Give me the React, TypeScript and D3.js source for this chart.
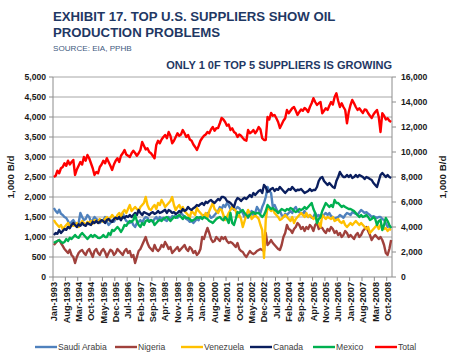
import React from 'react'
import * as d3 from 'd3'

// monthly imports, thousand barrels per day, Jan-1993 .. Dec-2008
const saudiArabia = [
  1725, 1650, 1600, 1680, 1580, 1550, 1500, 1475, 1400, 1300, 1380, 1425,
  1350, 1300, 1350, 1600, 1500, 1425, 1450, 1550, 1500, 1380, 1420, 1500,
  1450, 1425, 1350, 1400, 1425, 1500, 1380, 1300, 1350, 1420, 1380, 1450,
  1500, 1450, 1550, 1600, 1480, 1400, 1380, 1350, 1400, 1300, 1250, 1350,
  1380, 1425, 1350, 1450, 1500, 1480, 1400, 1425, 1380, 1450, 1500, 1420,
  1500, 1450, 1480, 1425, 1400, 1500, 1450, 1520, 1500, 1550, 1480, 1520,
  1600, 1550, 1500, 1450, 1425, 1380, 1400, 1350, 1400, 1450, 1420, 1500,
  1480, 1550, 1520, 1600, 1550, 1480, 1500, 1550, 1600, 1650, 1750, 1700,
  1800, 1750, 1850, 1800, 1700, 1750, 1680, 1700, 1750, 1720, 1650, 1600,
  1500, 1550, 1480, 1600, 1650, 1550, 1600, 1750, 1680, 1600, 1750, 1850,
  2000, 2250, 2150, 2100, 1750, 1800, 1700, 1600, 1650, 1550, 1500, 1580,
  1550, 1600, 1650, 1600, 1700, 1750, 1650, 1620, 1600, 1580, 1650, 1550,
  1500, 1550, 1480, 1500, 1600, 1520, 1550, 1480, 1500, 1560, 1600, 1550,
  1600, 1520, 1500, 1450, 1480, 1500, 1550, 1520, 1480, 1550, 1600, 1580,
  1550, 1620, 1600, 1580, 1550, 1620, 1675, 1640, 1600, 1620, 1580, 1550,
  1500, 1520, 1500, 1480, 1500, 1500, 1450, 1425, 1350, 1250, 1280, 1225,
]

const nigeria = [
  800, 850, 900, 925, 850, 780, 700, 650, 600, 680, 550, 500,
  350, 500, 600, 650, 675, 600, 550, 650, 700, 600, 500, 650,
  700, 600, 550, 650, 700, 620, 500, 600, 680, 650, 550, 600,
  700, 650, 600, 550, 650, 700, 600, 650, 500, 550, 350, 500,
  650, 700, 800, 900, 1000, 850, 750, 700, 650, 800, 700, 650,
  700, 800, 750, 875, 800, 700, 750, 600, 650, 700, 750, 650,
  700, 750, 800, 700, 650, 750, 700, 600, 650, 550, 600, 700,
  1000, 950, 1100, 1225, 1100, 950, 875, 900, 1000, 950, 900, 1000,
  950, 1000, 900, 850, 875, 850, 800, 750, 850, 700, 650, 625,
  550, 500, 575, 650, 600, 575, 600, 650, 675, 700, 675, 650,
  1100, 800, 850, 925, 850, 800, 750, 700, 675, 800, 1000, 1100,
  1300, 1200, 1175, 1100, 1200, 1250, 1350, 1300, 1200, 1250, 1150, 1250,
  1200, 1300, 1250, 1150, 1300, 1350, 1200, 1250, 1225, 1150, 1100, 1200,
  1150, 1250, 1200, 1100, 1150, 1050, 1100, 1000, 1050, 1150, 1100, 1000,
  1050, 1000, 950, 1050, 1100, 1000, 1050, 1150, 1200, 1250, 1150, 1050,
  925, 1000, 1050, 1000, 950, 1000, 925, 800, 600, 550, 700, 925,
]

const venezuela = [
  1425, 1350, 1300, 1250, 1300, 1200, 1250, 1300, 1350, 1250, 1300, 1280,
  1300, 1350, 1250, 1320, 1400, 1350, 1300, 1380, 1350, 1400, 1330, 1420,
  1400, 1350, 1450, 1400, 1380, 1450, 1500, 1420, 1480, 1550, 1500, 1450,
  1550, 1600, 1500, 1620, 1675, 1600, 1700, 1800, 1650, 1700, 1750, 1700,
  1650, 1750, 1800, 1850, 2000, 1800, 1700, 1675, 1750, 1800, 1700, 1850,
  1800, 1925, 1850, 1750, 1800, 1850, 1900, 2000, 1800, 1675, 1750, 1800,
  1700, 1750, 1650, 1600, 1550, 1500, 1650, 1600, 1550, 1725, 1650, 1600,
  1550, 1500, 1600, 1500, 1650, 1750, 1850, 1700, 1650, 1600, 1700, 1675,
  1550, 1425, 1500, 1600, 1675, 1750, 1700, 1650, 1500, 1550, 1450, 1250,
  1400, 1550, 1675, 1600, 1450, 1500, 1550, 1500, 1450, 1300, 1175, 475,
  1425, 1750, 1700, 1650, 1700, 1600, 1550, 1500, 1425, 1450, 1500, 1550,
  1500, 1450, 1400, 1500, 1350, 1450, 1500, 1550, 1600, 1550, 1500, 1600,
  1500, 1550, 1500, 1450, 1500, 1425, 1350, 1250, 1550, 1500, 1450, 1500,
  1475, 1450, 1500, 1400, 1425, 1450, 1380, 1350, 1400, 1300, 1250, 1300,
  1350, 1300, 1350, 1400, 1350, 1300, 1350, 1300, 1250, 1200, 1250, 1100,
  1150, 1200, 1250, 1300, 1200, 1300, 1250, 1200, 1225, 1150, 1200, 1175,
]

const canada = [
  1050, 1100, 1080, 1175, 1100, 1150, 1200, 1180, 1250, 1220, 1300, 1350,
  1300, 1250, 1320, 1280, 1350, 1300, 1280, 1350, 1320, 1300, 1380, 1350,
  1400, 1350, 1380, 1420, 1400, 1350, 1425, 1450, 1400, 1380, 1450, 1480,
  1450, 1500, 1420, 1500, 1480, 1520, 1500, 1550, 1500, 1550, 1600, 1550,
  1675, 1600, 1550, 1620, 1600, 1580, 1550, 1600, 1620, 1580, 1600, 1650,
  1600, 1620, 1650, 1680, 1600, 1675, 1650, 1600, 1620, 1580, 1600, 1650,
  1620, 1700, 1650, 1680, 1750, 1700, 1680, 1720, 1750, 1800, 1780, 1820,
  1850, 1800, 1880, 1850, 1900, 1925, 1880, 1850, 1900, 1950, 1920, 2000,
  2000, 1975, 1900, 1880, 1850, 1800, 1750, 1900, 1975, 1950, 1900, 1950,
  1980, 1950, 2000, 2050, 2000, 2100, 2050, 2100, 2150, 2175, 2100, 2300,
  2250, 2125, 2150, 2200, 2225, 2150, 2200, 2180, 2250, 2200, 2150, 2100,
  2150, 2200, 2180, 2250, 2200, 2150, 2180, 2175, 2200, 2150, 2100, 2125,
  2150, 2200, 2150, 2175, 2175, 2250, 2400, 2475, 2500, 2400, 2350, 2300,
  2350, 2300, 2250, 2225, 2400, 2500, 2625, 2550, 2500, 2500, 2550, 2500,
  2550, 2475, 2500, 2550, 2500, 2550, 2525, 2500, 2450, 2500, 2480, 2450,
  2425, 2350, 2300, 2250, 2400, 2550, 2600, 2550, 2500, 2550, 2500, 2475,
]

const mexico = [
  850, 880, 900, 925, 880, 850, 875, 950, 900, 980, 950, 1000,
  1050, 1000, 980, 1050, 1100, 1050, 1000, 950, 1000, 1050, 1000, 1050,
  1020, 980, 975, 1000, 1050, 1000, 1000, 1100, 1050, 1175, 1150, 1200,
  1250, 1200, 1125, 1200, 1300, 1280, 1350, 1400, 1380, 1425, 1550, 1400,
  1300, 1250, 1350, 1300, 1400, 1420, 1380, 1425, 1400, 1300, 1350, 1400,
  1425, 1400, 1450, 1480, 1500, 1450, 1400, 1450, 1500, 1480, 1520, 1550,
  1500, 1450, 1520, 1480, 1475, 1450, 1400, 1425, 1450, 1500, 1480, 1500,
  1450, 1500, 1475, 1450, 1400, 1380, 1350, 1400, 1450, 1480, 1500, 1450,
  1420, 1500, 1450, 1350, 1600, 1350, 1300, 1450, 1625, 1600, 1650, 1675,
  1600, 1550, 1500, 1550, 1600, 1625, 1580, 1600, 1600, 1550, 1500, 1550,
  1650, 1800, 1750, 1700, 1725, 1680, 1650, 1600, 1650, 1700, 1675, 1650,
  1700, 1680, 1725, 1700, 1650, 1625, 1650, 1700, 1675, 1700, 1750, 1700,
  1750, 1800, 1850, 1700, 1600, 1350, 1450, 1500, 1650, 1750, 1850, 1800,
  1750, 1800, 1750, 1925, 1850, 1850, 1800, 1750, 1780, 1750, 1725, 1700,
  1700, 1675, 1650, 1600, 1550, 1500, 1550, 1500, 1520, 1550, 1500, 1425,
  1450, 1500, 1450, 1300, 1400, 1425, 1175, 1300, 1475, 1400, 1300, 1225,
]

// total, read on the right axis
const total = [
  8000, 8100, 8500, 8300, 8700, 8800, 9100, 8900, 9300, 9000, 9200, 9360,
  8160, 8600, 8900, 9200, 9000, 9600, 9300, 9760, 9500, 9100, 8700, 8160,
  8400, 8300, 8800, 9000, 9300, 9100, 9500, 9200, 8900, 8560, 9000, 9300,
  9500, 9200, 9700, 9900, 10160, 9800, 9700, 9600, 9900, 10100, 9920, 9700,
  9900, 10160, 10800, 10500, 10200, 10300, 10000, 9900, 9700, 9500, 10560, 10900,
  10700, 11000, 11200, 11360, 11100, 11600, 11300, 10700, 10900, 11200, 11500, 11300,
  11400, 11760, 11500, 11200, 11360, 11000, 10900, 10600, 10400, 10160, 10500, 10900,
  11120, 11300, 11400, 11600, 11500, 11800, 12000, 11700, 11900, 11920, 12300, 12720,
  12600, 12400, 12100, 12200, 11760, 11900, 11600, 11500, 11200, 11400, 11300, 11120,
  10960, 10900, 11760, 11500, 11600, 11760, 11500, 11700, 12000, 11800, 11100, 10960,
  10960, 12800, 12600, 13120, 12900, 12960, 12700, 12400, 11920, 12200, 12500, 12700,
  13360, 13100, 13300, 13500, 13600, 13300, 12960, 13200, 13400, 13300, 13520, 13400,
  13200, 13600, 13900, 14300, 14000, 13760, 13900, 14000, 13100, 13300, 13500, 13360,
  13700, 14000, 13800, 14400, 14700, 14100, 13600, 13900, 13600, 13360, 12300, 13200,
  13760, 14160, 13900, 13600, 13360, 13500, 13300, 13120, 13400, 13360, 13100, 12900,
  12720, 13000, 13200, 13360, 12800, 11600, 13100, 12900, 12600, 12700, 12500, 12400,
]

const xTickLabels = [
  'Jan-1993', 'Aug-1993', 'Mar-1994', 'Oct-1994', 'May-1995', 'Dec-1995', 'Jul-1996',
  'Feb-1997', 'Sep-1997', 'Apr-1998', 'Nov-1998', 'Jun-1999', 'Jan-2000', 'Aug-2000',
  'Mar-2001', 'Oct-2001', 'May-2002', 'Dec-2002', 'Jul-2003', 'Feb-2004', 'Sep-2004',
  'Apr-2005', 'Nov-2005', 'Jun-2006', 'Jan-2007', 'Aug-2007', 'Mar-2008', 'Oct-2008',
]
const leftTicks = [0, 500, 1000, 1500, 2000, 2500, 3000, 3500, 4000, 4500, 5000]
const rightTicks = [0, 2000, 4000, 6000, 8000, 10000, 12000, 14000, 16000]

const months = d3.timeMonths(new Date(1993, 0, 1), new Date(2009, 0, 1))

const series = [
  { name: 'Saudi Arabia', values: saudiArabia, color: '#4f81bd', axis: 'left' },
  { name: 'Nigeria', values: nigeria, color: '#a0413c', axis: 'left' },
  { name: 'Venezuela', values: venezuela, color: '#ffc000', axis: 'left' },
  { name: 'Canada', values: canada, color: '#0a1e5e', axis: 'left' },
  { name: 'Mexico', values: mexico, color: '#00b050', axis: 'left' },
  { name: 'Total', values: total, color: '#ff0000', axis: 'right' },
]

const FONT = '"Liberation Sans", Arial, sans-serif'
const NAVY = '#1f3864'

export default function App() {
  const left = 53, right = 392, top = 77, bottom = 277

  const x = d3.scaleBand<number>()
    .domain(months.map((_, i) => i))
    .range([left, right])
  const xc = (i: number) => (x(i) as number) + x.bandwidth() / 2
  const yL = d3.scaleLinear().domain([0, 5000]).range([bottom, top])
  const yR = d3.scaleLinear().domain([0, 16000]).range([bottom, top])

  const fmt = d3.format(',')

  const legendX = [35, 115, 181, 250, 313, 375]

  return (
    <svg width={450} height={362} style={{ position: 'absolute', left: 0, top: 0, background: '#fff' }}
      fontFamily={FONT}>
      <text x={53} y={21} fontSize={13.2} fontWeight="bold" fill={NAVY}>EXHIBIT 17. TOP U.S. SUPPLIERS SHOW OIL</text>
      <text x={53} y={37} fontSize={13.2} fontWeight="bold" fill={NAVY}>PRODUCTION PROBLEMS</text>
      <text x={53} y={51} fontSize={8.1} fill="#3f5a80">SOURCE: EIA, PPHB</text>
      <text x={392} y={69} fontSize={11} fontWeight="bold" fill={NAVY} textAnchor="end">ONLY 1 0F TOP 5 SUPPLIERS IS GROWING</text>

      {/* gridlines */}
      {leftTicks.filter(t => t > 0).map(t => (
        <line key={t} x1={left} x2={right} y1={yL(t)} y2={yL(t)} stroke="#a6a6a6" strokeWidth={1} />
      ))}

      {/* axes */}
      <line x1={left} x2={left} y1={top} y2={bottom} stroke="#8c8c8c" />
      <line x1={right} x2={right} y1={top} y2={bottom} stroke="#8c8c8c" />
      <line x1={left} x2={right} y1={bottom} y2={bottom} stroke="#8c8c8c" />
      {leftTicks.map(t => (
        <g key={t}>
          <line x1={left - 4} x2={left} y1={yL(t)} y2={yL(t)} stroke="#8c8c8c" />
          <text x={46} y={yL(t) + 3} fontSize={8.6} fontWeight="bold" textAnchor="end" fill="#1a1a1a">{fmt(t)}</text>
        </g>
      ))}
      {rightTicks.map(t => (
        <g key={t}>
          <line x1={right} x2={right + 4} y1={yR(t)} y2={yR(t)} stroke="#8c8c8c" />
          <text x={401} y={yR(t) + 3} fontSize={8.6} fontWeight="bold" fill="#1a1a1a">{fmt(t)}</text>
        </g>
      ))}
      {xTickLabels.map((lab, k) => (
        <g key={lab}>
          <line x1={x(k * 7) as number} x2={x(k * 7) as number} y1={bottom} y2={bottom + 4} stroke="#8c8c8c" />
          <text transform={`translate(${xc(k * 7) + 3.3},${bottom + 5}) rotate(-90)`} fontSize={9.2} fontWeight="bold"
            textAnchor="end" fill="#1a1a1a">{lab}</text>
        </g>
      ))}

      <text transform={`translate(14,177) rotate(-90)`} fontSize={9.8} fontWeight="bold" textAnchor="middle" fill="#1a1a1a">1,000 B/d</text>
      <text transform={`translate(446,177) rotate(-90)`} fontSize={9.8} fontWeight="bold" textAnchor="middle" fill="#1a1a1a">1,000 B/d</text>

      {/* series */}
      {series.map(s => {
        const y = s.axis === 'left' ? yL : yR
        const line = d3.line<number>().x((_, i) => xc(i)).y(v => y(v))
        return <path key={s.name} d={line(s.values) as string} fill="none" stroke={s.color}
          strokeWidth={2.4} strokeLinejoin="round" />
      })}

      {/* legend */}
      {series.map((s, i) => (
        <g key={s.name}>
          <line x1={legendX[i]} x2={legendX[i] + 22} y1={347} y2={347} stroke={s.color} strokeWidth={2.4} />
          <text x={legendX[i] + 23} y={350} fontSize={8.6} fill="#404040">{s.name}</text>
        </g>
      ))}
    </svg>
  )
}
